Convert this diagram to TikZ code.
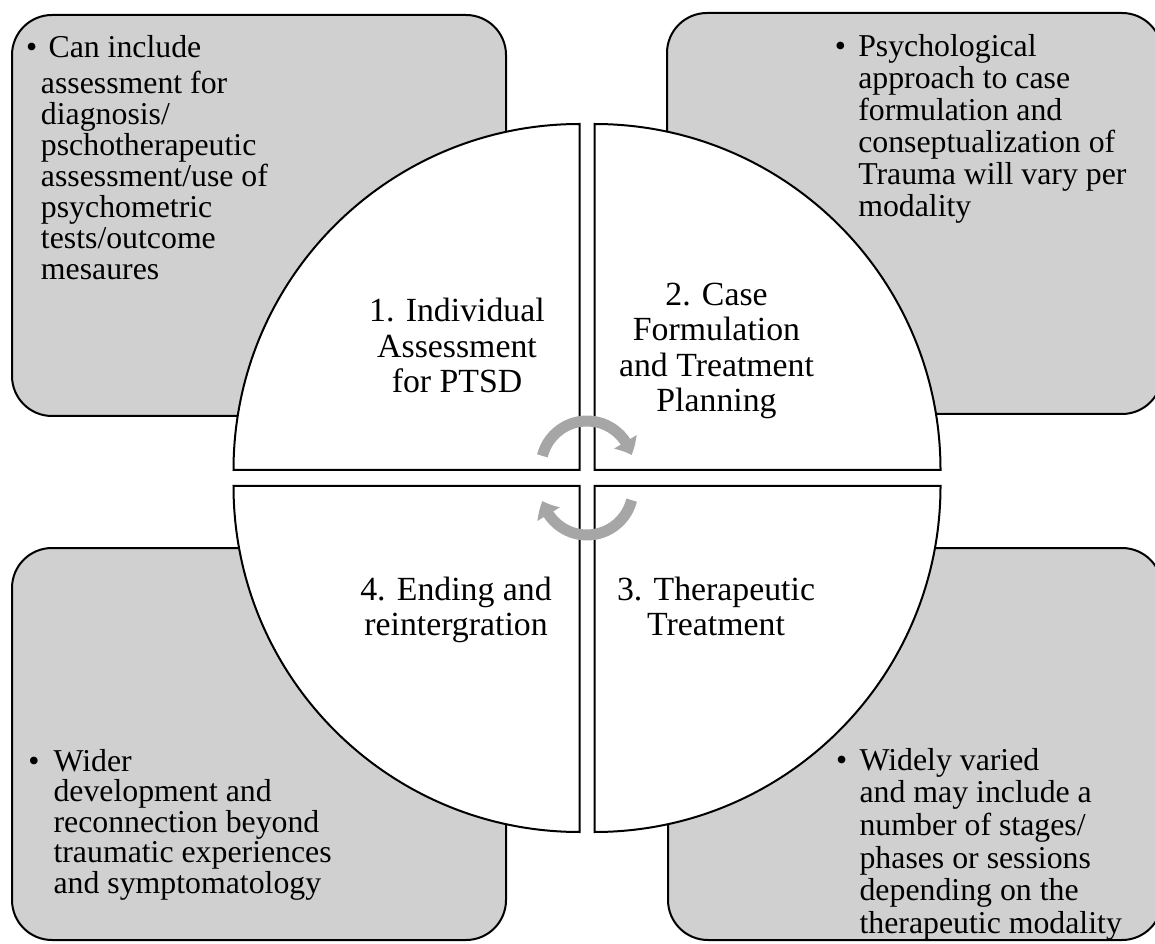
\documentclass[tikz,border=0pt]{standalone}
\usepackage{fontspec}
\setmainfont{Liberation Serif}
\usetikzlibrary{arrows.meta,bending}
\newdimen\px \px=0.75pt
\definecolor{boxgray}{HTML}{D0D0D0}
\definecolor{arrowgray}{HTML}{A6A6A6}
% bullet hung to the left of the first line, with a strut fixing the line height
\newcommand\bul[1]{\rule{0pt}{22\px}\llap{•\hspace{#1\px}}}
\tikzset{
  notebox/.style={draw=black, line width=1.5pt, fill=boxgray, rounded corners=30pt},
  quarter/.style={draw=black, line width=1.5pt, fill=white},
  cyclearrow/.style={draw=arrowgray, line width=8.25pt,
    -{Triangle[bend,length=11pt,width=19pt]}},
  phase/.style={align=center, inner sep=0pt, anchor=north,
    font=\fontsize{25.35pt}{26.6pt}\selectfont},
  note/.style={align=left, inner sep=0pt, anchor=north west,
    font=\fontsize{23.85pt}{#1}\selectfont},
}
\begin{document}
\begin{tikzpicture}[x=0.75pt,y=0.75pt]
\useasboundingbox (0,0) rectangle (1155,943);
\clip (0,0) rectangle (1155,943);

% corner boxes
\draw[notebox] (12,527) rectangle (506,928);
\draw[notebox] (667,529) rectangle (1162,930);
\draw[notebox] (12,3) rectangle (506,395);
\draw[notebox] (668,3) rectangle (1162,395);

% the four quarters of the cycle
\draw[quarter] (579.5,473) -- (579.5,819) arc[start angle=90,end angle=180,radius=346] -- cycle;
\draw[quarter] (594.5,473) -- (940.5,473) arc[start angle=0,end angle=90,radius=346] -- cycle;
\draw[quarter] (579.5,457) -- (233.5,457) arc[start angle=180,end angle=270,radius=346] -- cycle;
\draw[quarter] (594.5,457) -- (594.5,111) arc[start angle=270,end angle=360,radius=346] -- cycle;

% circular arrows in the middle
\draw[cyclearrow] (587,476) ++(166:46) arc[start angle=166,end angle=15,radius=46];
\draw[cyclearrow] (587,454) ++(346:46) arc[start angle=346,end angle=195,radius=46];

% phase titles
\node[phase] (p1) at (457,645.3) {\rule{0pt}{24\px}1. Individual\\Assessment\\for PTSD};
\node[phase] (p2) at (716.5,662) {\rule{0pt}{24\px}2. Case\\Formulation\\and Treatment\\Planning};
\node[phase] (p3) at (716,367) {\rule{0pt}{24\px}3. Therapeutic\\Treatment};
\node[phase] (p4) at (456,367) {\rule{0pt}{24\px}4. Ending and\\reintergration};

% notes
\node[note=23.25pt] (n1) at (40.7,908.3) {\hspace*{7.6\px}\bul{11.3}Can include\\[5\px]assessment for\\diagnosis/\\pschotherapeutic\\assessment/use of\\psychometric\\tests/outcome\\mesaures};
\node[note=24pt] (n2) at (858,909) {\bul{12.3}Psychological\\approach to case\\formulation and\\conseptualization of\\Trauma will vary per\\modality};
\node[note=22.95pt] (n4) at (53.3,194.3) {\bul{14}Wider\\development and\\reconnection beyond\\traumatic experiences\\and symptomatology};
\node[note=24.45pt] (n3) at (859.3,195) {\bul{12.3}Widely varied\\and may include a\\number of stages/\\phases or sessions\\depending on the\\therapeutic modality};
\end{tikzpicture}
\end{document}
